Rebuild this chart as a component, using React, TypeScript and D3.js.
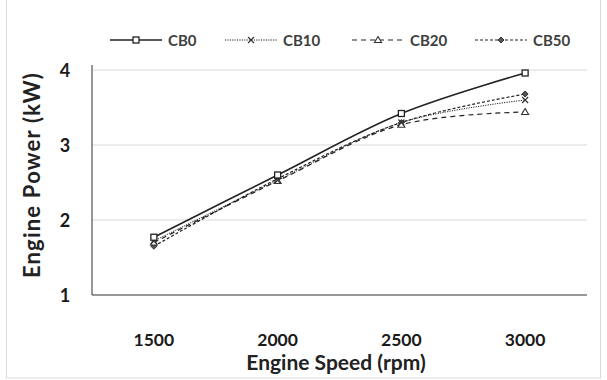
import React, { useRef, useEffect } from "react";
import * as d3 from "d3";

const speeds = ["1500", "2000", "2500", "3000"];
const cb0 = [1.77, 2.6, 3.42, 3.96];
const cb10 = [1.72, 2.53, 3.3, 3.6];
const cb20 = [1.7, 2.52, 3.27, 3.44];
const cb50 = [1.65, 2.55, 3.3, 3.68];
const yTicks = [1, 2, 3, 4];

const series = [
  { name: "CB0", values: cb0, dash: "none", width: 1.6, marker: "square" },
  { name: "CB10", values: cb10, dash: "1.2,1.2", width: 1, marker: "x" },
  { name: "CB20", values: cb20, dash: "5,4", width: 1.2, marker: "triangle" },
  { name: "CB50", values: cb50, dash: "3,2", width: 1.2, marker: "diamond" },
];

function drawMarker(g: any, type: string, x: number, y: number) {
  if (type === "square") {
    g.append("rect").attr("x", x - 3).attr("y", y - 3).attr("width", 6).attr("height", 6)
      .attr("fill", "white").attr("stroke", "#222").attr("stroke-width", 1.3);
  } else if (type === "x") {
    g.append("path").attr("d", `M${x - 3},${y - 3}L${x + 3},${y + 3}M${x + 3},${y - 3}L${x - 3},${y + 3}`)
      .attr("stroke", "#333").attr("stroke-width", 1.1);
  } else if (type === "triangle") {
    g.append("path").attr("d", `M${x},${y - 3.5}L${x + 3.5},${y + 2.5}L${x - 3.5},${y + 2.5}Z`)
      .attr("fill", "white").attr("stroke", "#333").attr("stroke-width", 1.1);
  } else {
    g.append("path").attr("d", `M${x},${y - 3}L${x + 3},${y}L${x},${y + 3}L${x - 3},${y}Z`)
      .attr("fill", "#555").attr("stroke", "#333").attr("stroke-width", 1);
  }
}

export default function App() {
  const ref = useRef<SVGSVGElement>(null);

  useEffect(() => {
    const svg = d3.select(ref.current);
    svg.selectAll("*").remove();
    const font = "Lato, 'Open Sans', sans-serif";

    const left = 92, right = 587, top = 70, bottom = 295;

    svg.append("rect").attr("x", 6.5).attr("y", -1).attr("width", 594).attr("height", 379)
      .attr("fill", "white").attr("stroke", "#d9d9d9");

    const x = d3.scaleBand().domain(speeds).range([left, right]);
    const y = d3.scaleLinear().domain([1, 4]).range([bottom, top]);
    const cx = (s: string) => (x(s) as number) + x.bandwidth() / 2;

    // gridlines
    svg.append("g").selectAll("line").data(yTicks.slice(1)).join("line")
      .attr("x1", left).attr("x2", right)
      .attr("y1", d => y(d)).attr("y2", d => y(d))
      .attr("stroke", "#d9d9d9").attr("stroke-width", 1);

    // axes
    svg.append("line").attr("x1", left).attr("x2", left).attr("y1", top - 5).attr("y2", bottom)
      .attr("stroke", "#333").attr("stroke-width", 1);
    svg.append("line").attr("x1", left).attr("x2", right).attr("y1", bottom).attr("y2", bottom)
      .attr("stroke", "#333").attr("stroke-width", 1);

    svg.append("g").selectAll("text").data(yTicks).join("text")
      .attr("x", 65).attr("y", d => y(d) + 7).attr("text-anchor", "middle")
      .attr("font-family", font).attr("font-weight", "bold").attr("font-size", 18)
      .attr("fill", "#1a1a1a").text(d => d);

    svg.append("g").selectAll("text").data(speeds).join("text")
      .attr("x", d => cx(d)).attr("y", 346).attr("text-anchor", "middle")
      .attr("font-family", font).attr("font-weight", "bold").attr("font-size", 17.5)
      .attr("fill", "#1a1a1a").text(d => d);

    svg.append("text").attr("x", 336).attr("y", 370).attr("text-anchor", "middle")
      .attr("font-family", font).attr("font-weight", "bold").attr("font-size", 21)
      .attr("fill", "#222").text("Engine Speed (rpm)");

    svg.append("text").attr("transform", "translate(40,175) rotate(-90)").attr("text-anchor", "middle")
      .attr("font-family", font).attr("font-weight", "bold").attr("font-size", 22)
      .attr("letter-spacing", 1.2)
      .attr("fill", "#222").text("Engine Power (kW)");

    const line = d3.line<number>()
      .x((d, i) => cx(speeds[i]))
      .y(d => y(d))
      .curve(d3.curveCatmullRom.alpha(0.5));

    series.slice().reverse().forEach(s => {
      svg.append("path").datum(s.values).attr("d", line)
        .attr("fill", "none").attr("stroke", "#222")
        .attr("stroke-width", s.width).attr("stroke-dasharray", s.dash);
    });
    series.slice().reverse().forEach(s => {
      const g = svg.append("g");
      s.values.forEach((v, i) => drawMarker(g, s.marker, cx(speeds[i]), y(v)));
    });

    // legend
    const legendX = [110, 225, 352, 475];
    series.forEach((s, i) => {
      const lx = legendX[i];
      const g = svg.append("g");
      g.append("line").attr("x1", lx).attr("x2", lx + 52).attr("y1", 40).attr("y2", 40)
        .attr("stroke", "#222").attr("stroke-width", s.width).attr("stroke-dasharray", s.dash);
      drawMarker(g, s.marker, lx + 26, 40);
      g.append("text").attr("x", lx + 58).attr("y", 46)
        .attr("font-family", font).attr("font-weight", "bold").attr("font-size", 15)
        .attr("fill", "#404040").text(s.name);
    });
  }, []);

  return <svg ref={ref} width={607} height={380} style={{ position: "absolute", left: 0, top: 0 }}></svg>;
}
